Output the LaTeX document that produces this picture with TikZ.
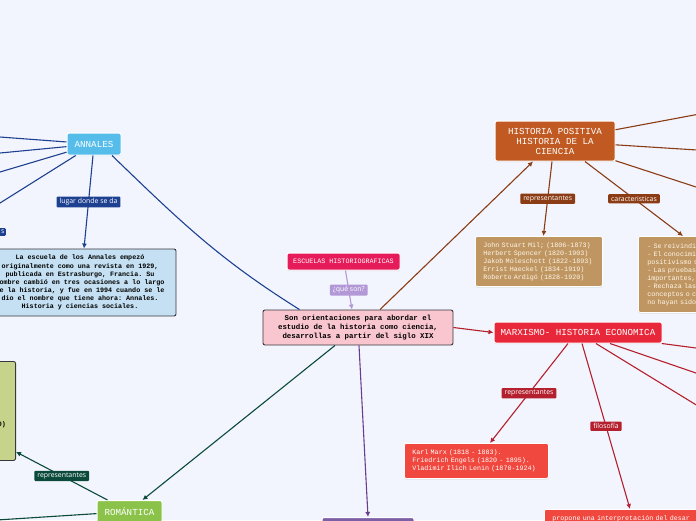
\documentclass[tikz,border=0pt]{standalone}
\usepackage{fontspec}
\setmonofont{Liberation Mono}
\setsansfont{Open Sans}
\usetikzlibrary{arrows.meta,shadows}
\definecolor{pageBg}{RGB}{242,245,253}
\definecolor{noteBorder}{RGB}{55,55,60}
\definecolor{centralFill}{RGB}{249,198,208}
\definecolor{schoolFill}{RGB}{230,27,90}
\definecolor{lavLine}{RGB}{178,152,214}
\definecolor{annalesFill}{RGB}{86,189,235}
\definecolor{annalesNote}{RGB}{196,224,242}
\definecolor{annalesLine}{RGB}{30,64,145}
\definecolor{greenNote}{RGB}{197,212,138}
\definecolor{romFill}{RGB}{139,195,74}
\definecolor{romLine}{RGB}{11,74,58}
\definecolor{purpleLine}{RGB}{106,61,140}
\definecolor{purpleFill}{RGB}{125,95,165}
\definecolor{posFill}{RGB}{192,90,34}
\definecolor{posLine}{RGB}{139,60,20}
\definecolor{tanFill}{RGB}{191,150,98}
\definecolor{tanText}{RGB}{255,246,232}
\definecolor{marxFill}{RGB}{232,40,58}
\definecolor{marxLine}{RGB}{180,32,45}
\definecolor{marxNote}{RGB}{240,72,62}
\tikzset{
    mapTopic/.style={
        rounded corners=2pt,
        draw=white,
        line width=1pt,
        text=white,
        align=center,
        inner sep=0pt,
        drop shadow={opacity=0.18,shadow xshift=0pt,shadow yshift=-1.2pt},
        font=\ttfamily\fontsize{9.2}{10}\selectfont
    },
    mapNote/.style={
        rounded corners=2pt,
        draw=noteBorder,
        line width=0.9pt,
        align=center,
        inner sep=0pt,
        font=\ttfamily\bfseries\fontsize{6.7}{8.1}\selectfont
    },
    mapList/.style={
        rounded corners=2pt,
        draw=white,
        line width=0.8pt,
        text=tanText,
        align=left,
        anchor=north west,
        inner xsep=8pt,
        inner ysep=0pt,
        drop shadow={opacity=0.18,shadow xshift=0pt,shadow yshift=-1.2pt},
        font=\ttfamily\fontsize{6.7}{8}\selectfont
    },
    mapLabel/.style={
        rounded corners=1pt,
        text=white,
        inner xsep=3pt,
        inner ysep=2pt,
        font=\sffamily\fontsize{6.9}{7}\selectfont
    },
    mapLine/.style={
        line width=1.1pt
    },
    mapArrow/.style={
        -{Latex[length=5pt,width=5pt]},
        line width=1.1pt
    }
}
\begin{document}
\begin{tikzpicture}[x=1pt,y=-1pt]
    \useasboundingbox (0,0) rectangle (696,520);
    \clip (0,0) rectangle (696,520);
    \fill[pageBg] (0,0) rectangle (696,520);

    \node[mapNote,fill=centralFill,minimum width=190,minimum height=35,font=\ttfamily\bfseries\fontsize{7.4}{9}\selectfont] (central) at (358,327.5) {Son orientaciones para abordar el\\estudio de la historia como ciencia,\\desarrollas a partir del siglo XIX};
    \node[mapTopic,fill=schoolFill,minimum width=113,minimum height=17,font=\ttfamily\fontsize{6.7}{8}\selectfont] (schools) at (343.5,261.5) {ESCUELAS HISTORIOGRAFICAS};

    \node[mapTopic,fill=annalesFill,minimum width=54,minimum height=22] (annales) at (94,144) {ANNALES};
    \node[mapNote,fill=annalesNote,minimum width=192,minimum height=67] (annalesInfo) at (80,282.5) {La escuela de los Annales empezó\\originalmente como una revista en 1929,\\publicada en Estrasburgo, Francia. Su\\nombre cambió en tres ocasiones a lo largo\\de la historia, y fue en 1994 cuando se le\\dio el nombre que tiene ahora: Annales.\\Historia y ciencias sociales.};
    \node[mapLabel,fill=annalesLine,anchor=east,text width=34,align=right,inner xsep=1.5pt] (annalesCut) at (6,232) {s};
    \coordinate (annalesA) at (-50,133.3);
    \coordinate (annalesB) at (-50,157.8);
    \coordinate (annalesC) at (-50,186.9);
    \coordinate (annalesD) at (-50,234.4);

    \node[mapTopic,fill=romFill,minimum width=65,minimum height=22] (romantic) at (129.5,511.5) {ROMÁNTICA};
    \node[mapNote,fill=greenNote,anchor=north east,minimum width=60,minimum height=99] (romanticRep) at (16,361) {};
    \node[font=\ttfamily\bfseries\fontsize{6.7}{8}\selectfont,anchor=east,inner sep=0pt] (romanticCut) at (6,425) {0)};
    \coordinate (romanticA) at (-50,523);

    \node[mapTopic,fill=purpleFill,anchor=north,minimum width=92,minimum height=26] (purpleTopic) at (368,517) {};

    \node[mapTopic,fill=posFill,minimum width=120,minimum height=40] (positive) at (555,141) {HISTORIA POSITIVA\\HISTORIA DE LA\\CIENCIA};
    \node[mapList,fill=tanFill,minimum width=127,minimum height=50,text width=111] (positiveRep) at (475,236) {John Stuart Mil; (1806-1873)\\Herbert Spencer (1820-1903)\\Jakob Moleschott (1822-1893)\\Errist Haeckel (1834-1919)\\Roberto Ardigó (1828-1920)};
    \node[mapList,fill=tanFill,minimum width=122,minimum height=76,text width=106,inner xsep=9pt] (positiveTraits) at (638,236) {- Se reivindi\\- El conocimi\\positivismo s\\- Las pruebas\\importantes,\\- Rechaza las\\conceptos o c\\no hayan sido};
    \coordinate (positiveA) at (760,102.7);
    \coordinate (positiveB) at (760,154);
    \coordinate (positiveC) at (760,207.9);

    \node[mapTopic,fill=marxFill,minimum width=168,minimum height=21] (marxism) at (578,332.5) {MARXISMO- HISTORIA ECONOMICA};
    \node[mapList,fill=marxNote,text=white,minimum width=144,minimum height=35,text width=128] (marxismRep) at (404,443) {Karl Marx (1818 - 1883).\\Friedrich Engels (1820 - 1895).\\Vladimir Ilich Lenin (1870-1924)};
    \node[mapList,fill=marxNote,text=white,minimum width=216,text width=200,inner ysep=6pt] (marxismIdea) at (544,509) {propone una interpretación del desar};
    \coordinate (marxismA) at (760,356.4);
    \coordinate (marxismB) at (760,395);
    \coordinate (marxismC) at (760,444);

    \draw[mapArrow,draw=lavLine] ([xshift=2]schools.south) -- node[mapLabel,fill=lavLine] (lblWhat) {¿qué son?} ([xshift=-6]central.north);

    \draw[mapLine,draw=annalesLine] (annales) -- (annalesA);
    \draw[mapLine,draw=annalesLine] (annales) -- (annalesB);
    \draw[mapLine,draw=annalesLine] (annales) -- (annalesC);
    \draw[mapLine,draw=annalesLine] (annales) -- (annalesD);
    \draw[mapArrow,draw=annalesLine] ([xshift=-1]annales.south) -- node[mapLabel,fill=annalesLine] (lblPlace) {lugar donde se da} ([xshift=4]annalesInfo.north);
    \draw[mapLine,draw=annalesLine] ([xshift=18]annales.south) to[out=-44,in=148] ([xshift=37]central.north west);

    \draw[mapArrow,draw=romLine] ([xshift=-23]central.south) -- ([xshift=13]romantic.north);
    \draw[mapArrow,draw=romLine] ([xshift=-22]romantic.north) -- node[mapLabel,fill=romLine] (lblRomRep) {representantes} ([yshift=9]romanticRep.south east);
    \draw[mapLine,draw=romLine] (romantic) -- (romanticA);

    \draw[mapArrow,draw=purpleLine] ([xshift=1]central.south) -- (purpleTopic.north);

    \draw[mapArrow,draw=posLine] ([xshift=22]central.north) -- ([xshift=-22]positive.south);
    \draw[mapLine,draw=posLine] (positive) -- (positiveA);
    \draw[mapLine,draw=posLine] (positive) -- (positiveB);
    \draw[mapLine,draw=posLine] (positive) -- (positiveC);
    \draw[mapArrow,draw=posLine] ([xshift=-3]positive.south) -- node[mapLabel,fill=posLine] (lblPosRep) {representantes} ([xshift=4.5]positiveRep.north);
    \draw[mapArrow,draw=posLine] ([xshift=30]positive.south) -- node[mapLabel,fill=posLine] (lblPosTraits) {caracteristicas} ([xshift=45]positiveTraits.north west);

    \draw[mapArrow,draw=marxLine] (central.east) -- (marxism.west);
    \draw[mapLine,draw=marxLine] (marxism) -- (marxismA);
    \draw[mapLine,draw=marxLine] (marxism) -- (marxismB);
    \draw[mapLine,draw=marxLine] (marxism) -- (marxismC);
    \draw[mapArrow,draw=marxLine] ([xshift=-10]marxism.south) -- node[mapLabel,fill=marxLine] (lblMarxRep) {representantes} ([xshift=86]marxismRep.north west);
    \draw[mapArrow,draw=marxLine] ([xshift=4]marxism.south) -- node[mapLabel,fill=marxLine] (lblMarxIdea) {filosofía} ([xshift=86]marxismIdea.north west);
\end{tikzpicture}
\end{document}
